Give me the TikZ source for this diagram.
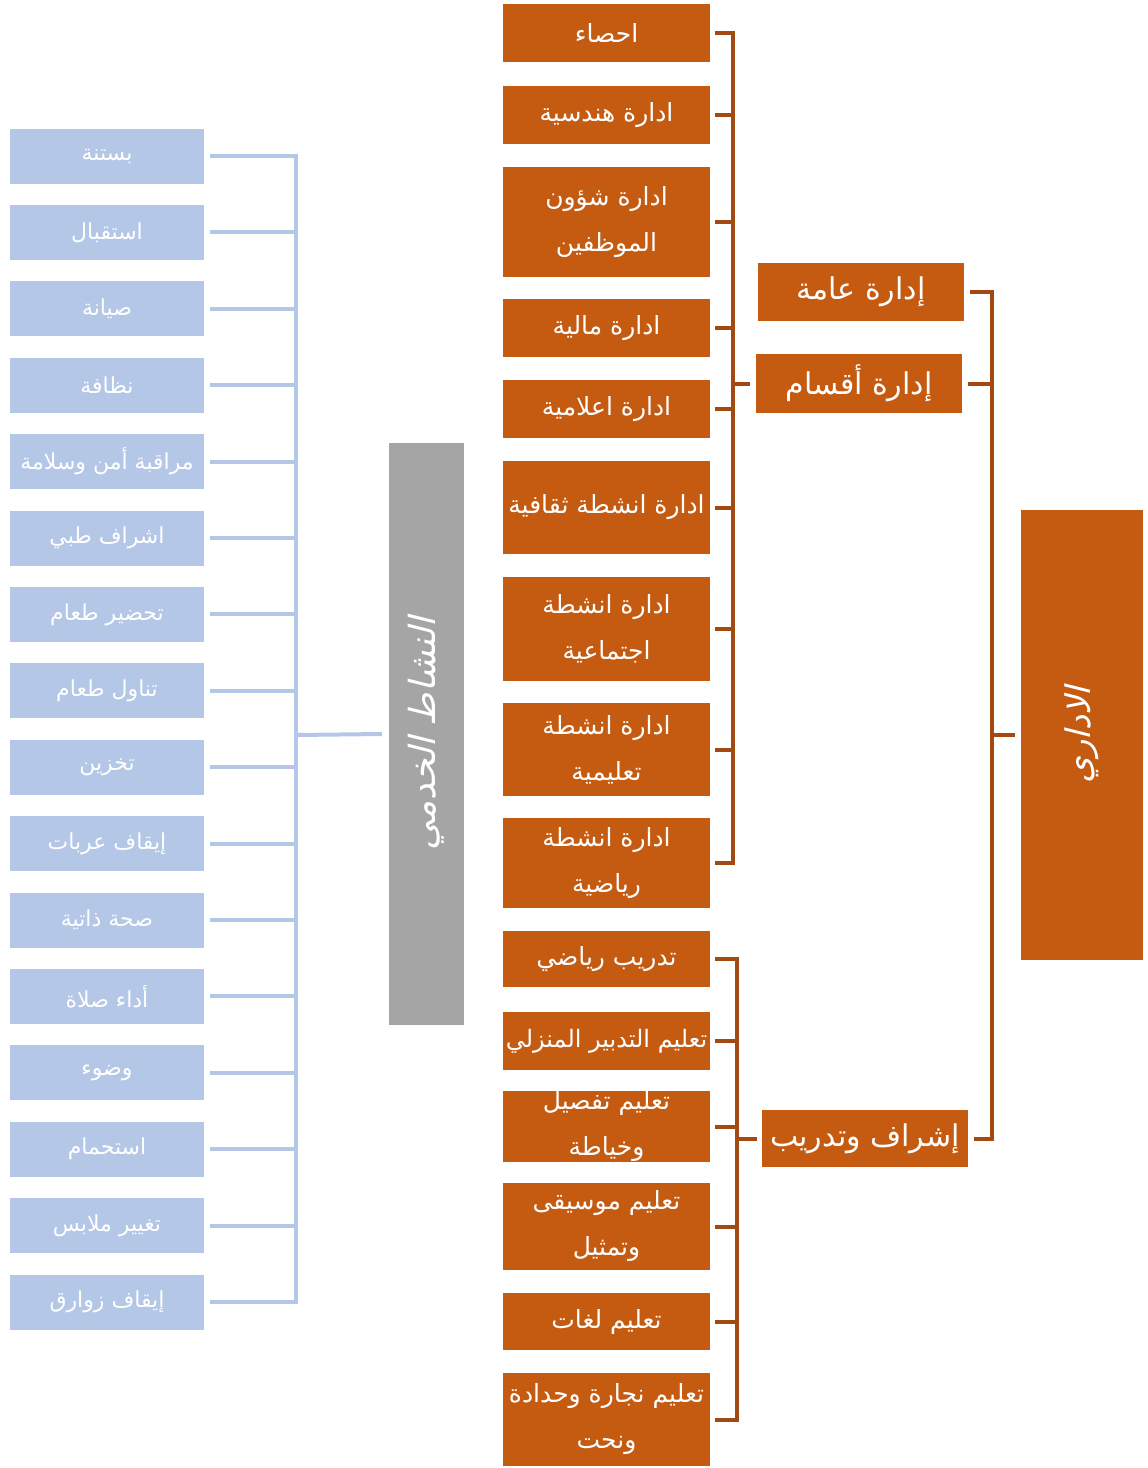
\documentclass[tikz,border=0pt]{standalone}
\usepackage{fontspec}
\newfontfamily\arabicfont[Script=Arabic]{DejaVu Sans}
\newfontfamily\arabicslant[Script=Arabic,FakeSlant=0.25]{DejaVu Sans}
\TeXXeTstate=1
\newcommand\ar[1]{\beginR #1\endR}
\definecolor{deptorange}{HTML}{C55A11}
\definecolor{linkorange}{HTML}{A34A12}
\definecolor{svcblue}{HTML}{B4C7E7}
\definecolor{svcgray}{HTML}{A5A5A5}
\begin{document}
\begin{tikzpicture}[x=1pt,y=-1pt,
  dept/.style={fill=deptorange,text=white,minimum width=207pt,inner sep=0pt,align=center,
    font=\arabicfont\fontsize{25}{46}\selectfont},
  head/.style={dept,minimum width=206pt,font=\arabicfont\fontsize{30}{34}\selectfont},
  svc/.style={fill=svcblue,text=white,minimum width=194pt,minimum height=55pt,inner sep=0pt,
    font=\arabicfont\fontsize{22}{24}\selectfont},
  tall/.style={rotate=90,inner sep=0pt,text=white,font=\arabicslant\fontsize{34}{38}\selectfont},
  olink/.style={draw=linkorange,line width=4pt},
  blink/.style={draw=svcblue,line width=4pt}]
  \useasboundingbox (0,0) rectangle (1148,1468);

  \node[tall,fill=deptorange,minimum width=450pt,minimum height=122pt] (root) at (1082,735) {\ar{الاداري}};
  \node[head,minimum height=58pt] (general) at (861,292) {\ar{إدارة عامة}};
  \node[head,minimum height=59pt] (sections) at (859,383.5) {\ar{إدارة أقسام}};
  \node[head,minimum height=57pt] (training) at (865,1138.5) {\ar{إشراف وتدريب}};

  \node[dept,minimum height=58pt] (o1) at (606.5,33) {\ar{احصاء}};
  \node[dept,minimum height=58pt] (o2) at (606.5,115) {\ar{ادارة هندسية}};
  \node[dept,minimum height=110pt] (o3) at (606.5,222) {\ar{ادارة شؤون}\\\ar{الموظفين}};
  \node[dept,minimum height=58pt] (o4) at (606.5,328) {\ar{ادارة مالية}};
  \node[dept,minimum height=58pt] (o5) at (606.5,409) {\ar{ادارة اعلامية}};
  \node[dept,minimum height=93pt] (o6) at (606.5,507.5) {\ar{ادارة انشطة ثقافية}};
  \node[dept,minimum height=104pt] (o7) at (606.5,629) {\ar{ادارة انشطة}\\\ar{اجتماعية}};
  \node[dept,minimum height=93pt] (o8) at (606.5,749.5) {\ar{ادارة انشطة}\\\ar{تعليمية}};
  \node[dept,minimum height=90pt] (o9) at (606.5,863) {\ar{ادارة انشطة}\\\ar{رياضية}};

  \node[dept,minimum height=56pt] (t1) at (606.5,959) {\ar{تدريب رياضي}};
  \node[dept,minimum height=58pt,font=\arabicfont\fontsize{24}{46}\selectfont] (t2) at (606.5,1041) {\ar{تعليم التدبير المنزلي}};
  \node[dept,minimum height=67pt] (t3) at (606.5,1126.5) {\ar{تعليم تفصيل}\\\ar{وخياطة}};
  \node[dept,minimum height=87pt] (t4) at (606.5,1226.5) {\ar{تعليم موسيقى}\\\ar{وتمثيل}};
  \node[dept,minimum height=57pt] (t5) at (606.5,1321.5) {\ar{تعليم لغات}};
  \node[dept,minimum height=93pt] (t6) at (606.5,1419.5) {\ar{تعليم نجارة وحدادة}\\\ar{ونحت}};

  \node[tall,fill=svcgray,minimum width=582pt,minimum height=75pt,font=\arabicslant\fontsize{36}{40}\selectfont] (service) at (426.5,734) {\ar{النشاط الخدمي}};
  \foreach \t [count=\i] in {بستنة,استقبال,صيانة,نظافة,مراقبة أمن وسلامة,اشراف طبي,تحضير طعام,تناول طعام,تخزين,إيقاف عربات,صحة ذاتية,أداء صلاة,وضوء,استحمام,تغيير ملابس,إيقاف زوارق}
    \node[svc] (s\i) at (107,{156+76.4*(\i-1)}) {\ar{\t}};

  \coordinate (jroot) at (992,735);
  \coordinate (jsections) at (733,383.5);
  \coordinate (jtraining) at (737,1138.5);
  \coordinate (jservice) at (296,735);

  \foreach \n in {general,sections,training}
    \draw[olink] ([xshift=6pt]\n.east) -| (jroot);
  \draw[olink] (jroot) -- ([xshift=-6pt]root.north);
  \foreach \n in {o1,o2,o3,o4,o5,o6,o7,o8,o9}
    \draw[olink] ([xshift=5pt]\n.east) -| (jsections);
  \draw[olink] (jsections) -- ([xshift=-6pt]sections.west);
  \foreach \n in {t1,t2,t3,t4,t5,t6}
    \draw[olink] ([xshift=5pt]\n.east) -| (jtraining);
  \draw[olink] (jtraining) -- ([xshift=-5pt]training.west);
  \foreach \i in {1,...,16}
    \draw[blink] ([xshift=6pt]s\i.east) -| (jservice);
  \draw[blink] (jservice) -- ([xshift=-7pt]service.north);
\end{tikzpicture}
\end{document}
